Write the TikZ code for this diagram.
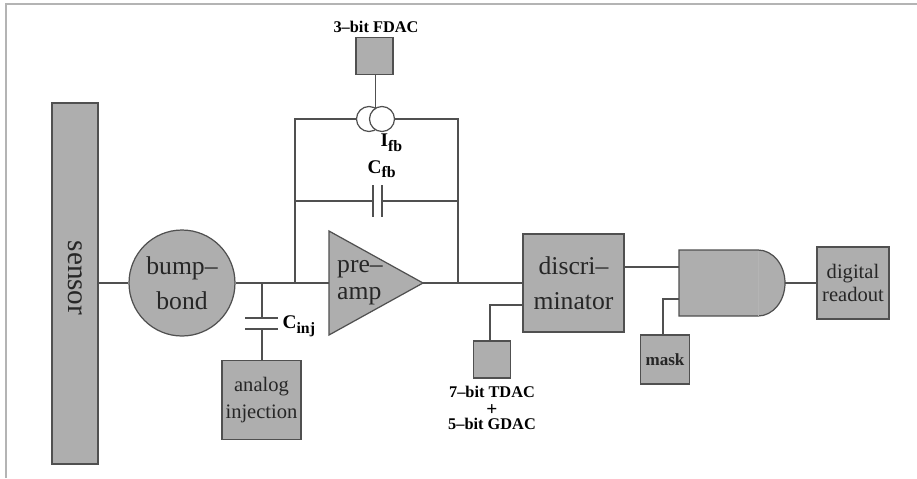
\documentclass[tikz,border=0pt]{standalone}
\usepackage{fontspec}
\setmainfont{Liberation Serif}
\definecolor{cfill}{HTML}{AEAEAE}
\definecolor{cline}{HTML}{505050}
\definecolor{cframe}{HTML}{B4B4B4}
\tikzset{
  every picture/.style={line width=0.7pt},
  block/.style={draw=cline, fill=cfill, align=center, inner sep=0pt, text=black!85},
  wire/.style={draw=cline},
  dac/.style={font=\fontsize{9.3}{9}\selectfont\bfseries, align=center, inner sep=0pt},
  small/.style={block, font=\fontsize{11.7}{15}\selectfont},
  big/.style={block, font=\fontsize{14.6}{20}\selectfont},
  symb/.style={inner sep=0pt, anchor=west, font=\fontsize{11}{13}\selectfont\bfseries},
}
\newcommand{\lowfb}[1]{\raisebox{-2.6pt}{\fontsize{9}{10}\selectfont #1}}
\begin{document}
\begin{tikzpicture}[x=0.02cm, y=-0.02cm]
  \useasboundingbox (0,0) rectangle (917,478);
  \draw[cframe, line width=1.2pt] (6,478) -- (6,4) -- (917,4);

  % sensor side
  \node[block, minimum width=0.92cm, minimum height=7.22cm] (sensor) at (75,283.5) {};
  \node[rotate=-90, font=\fontsize{16.6}{18}\selectfont, inner sep=0pt, text=black!85] (sensorlabel) at (75,278) {sensor};
  \node[big, circle, minimum size=2.12cm] (bump) at (182,283) {bump--\\bond};

  % preamp
  \coordinate (ampin) at (329,283);
  \coordinate (ampout) at (423,283);
  \draw[block] (329,231) -- (ampout) -- (329,335) -- cycle;
  \node[inner sep=0pt, align=left, text=black!85, font=\fontsize{14.6}{15.3}\selectfont] (amplabel) at (360,283) {pre--\\amp};

  % feedback
  \coordinate (fbl) at (295,283);
  \coordinate (fbr) at (458,283);
  \coordinate (fbla) at (295,119);
  \coordinate (fbra) at (458,119);
  \coordinate (fblb) at (295,201);
  \coordinate (fbrb) at (458,201);
  \coordinate (capa) at (373,201);
  \coordinate (capb) at (382,201);
  \node[draw=cline, circle, minimum size=0.5cm, inner sep=0pt] (srca) at (369,119) {};
  \node[draw=cline, fill=white, circle, minimum size=0.5cm, inner sep=0pt] (srcb) at (382,119) {};
  \node[block, minimum size=0.74cm] (fdac) at (374.5,56) {};
  \node[dac] (fdaclabel) at (376,27) {3--bit FDAC};
  \coordinate (srctop) at (375.5,108);
  \node[symb] (ifb) at (380,143) {I\lowfb{fb}};
  \node[symb] (cfb) at (367,169) {C\lowfb{fb}};
  \draw[wire] (fdac.south -| srctop) -- (srctop);
  \draw[wire] (fbl) -- (fbla) -- (srca.west);
  \draw[wire] (srcb.east) -- (fbra) -- (fbr);
  \draw[wire] (fblb) -- (capa);
  \draw[wire] (capb) -- (fbrb);
  \draw[wire] (373,185) -- (373,217);
  \draw[wire] (382,185) -- (382,217);

  % injection
  \coordinate (injtop) at (262,283);
  \coordinate (platea) at (262,318);
  \coordinate (plateb) at (262,329);
  \node[small, minimum size=1.58cm] (inj) at (261.5,400) {analog\\injection};
  \node[symb] (cinj) at (282,326) {C\lowfb{inj}};
  \draw[wire] (injtop) -- (platea);
  \draw[wire] (plateb) -- (plateb |- inj.north);
  \draw[wire] (245,318) -- (278,318);
  \draw[wire] (245,329) -- (278,329);

  % discriminator
  \node[big, minimum width=2.02cm, minimum height=1.96cm] (disc) at (573.5,283) {discri--\\minator};
  \node[block, minimum size=0.74cm] (tdac) at (492,359.5) {};
  \node[dac] (tdaclabel) at (492,408) {7--bit TDAC\\{\fontsize{11}{9}\selectfont\raisebox{-1pt}{+}}\\5--bit GDAC};
  \coordinate (tdacin) at (523,305);
  \coordinate (tdacup) at (490,305);
  \draw[wire] (tdacin) -- (tdacup) -- (tdacup |- tdac.north);

  % and gate
  \coordinate (gatea) at (679,267);
  \coordinate (gateb) at (679,299);
  \coordinate (gateout) at (785,283);
  \draw[block] (679,250) -- (758,250) .. controls (773,250) and (785,265) .. (gateout)
    .. controls (785,301) and (773,316) .. (758,316) -- (679,316) -- cycle;
  \draw[cfill!93!white, line width=0.4pt] (758,250.5) -- (758,315.5);
  \node[block, minimum size=0.98cm, font=\fontsize{9.7}{11}\selectfont\bfseries] (mask) at (665,359.5) {mask};
  \coordinate (maskup) at (663,299);
  \node[small, font=\fontsize{11.7}{13}\selectfont, minimum size=1.44cm] (readout) at (853,283) {digital\\readout};
  \draw[wire] (gateb) -- (maskup) -- (maskup |- mask.north);
  \draw[wire] (disc.east |- gatea) -- (gatea);
  \draw[wire] (gateout) -- (readout.west);

  % main line
  \draw[wire] (sensor.east |- bump) -- (bump.west);
  \draw[wire] (bump.east) -- (ampin);
  \draw[wire] (ampout) -- (disc.west);
\end{tikzpicture}
\end{document}
